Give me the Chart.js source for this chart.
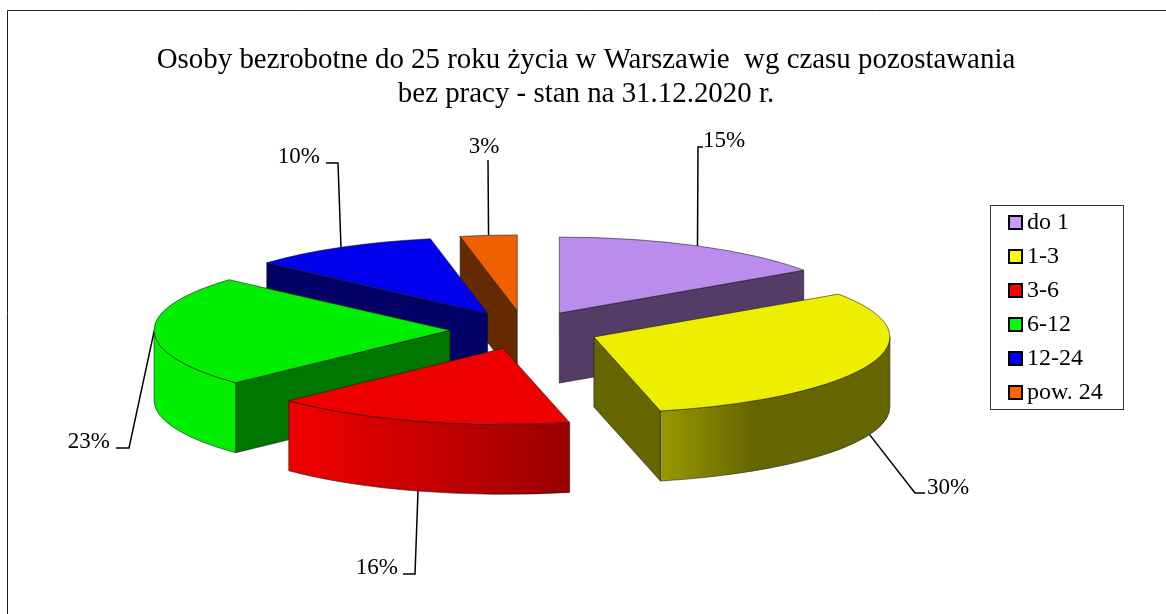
<!DOCTYPE html>
<html><head><meta charset="utf-8">
<style>html,body{margin:0;padding:0;background:#fff}canvas{display:block}</style>
<script src="https://cdn.jsdelivr.net/npm/chart.js@4/dist/chart.umd.min.js"></script>
</head><body><canvas id="c" width="1166" height="614"></canvas>
<script>
// ---- data ----
const categories = ['do 1', '1-3', '3-6', '6-12', '12-24', 'pow. 24'];
const shares = [15, 30, 16, 23, 10, 3];
const titleLines = ['Osoby bezrobotne do 25 roku życia w Warszawie  wg czasu pozostawania', 'bez pracy - stan na 31.12.2020 r.'];
// ---- colours ----
const topColors = ['#BB8CEE', '#EEEE00', '#EE0000', '#00EE00', '#0000EE', '#EE6000'];
const legendColors = ['#CC99FF', '#FFFF00', '#FF0000', '#00FF00', '#0000FF', '#FF6600'];
const cutColors = ['#533C66', '#666600', '#990000', '#007700', '#000066', '#662A00'];
const rimStops = [null, [[0, '#999900'], [0.4, '#666600'], [1, '#666600']], [[0, '#EE0000'], [0.05, '#EE0000'], [1, '#990000']], [[0, '#00EE00'], [1, '#00EE00']], null, null];
// ---- 3D layout ----
const pieRadius = 296, squash = 76 / 296, depth = 70, explode = 74.5, paintOrder = [0, 5, 4, 3, 1, 2];
const leaderOnRim = [0, 1, 1, 0, 0, 0];
const elbows = [[698, 147, 703, 147], [915, 493, 925, 493], [415, 574, 403, 574], [129, 448, 116, 448], [338, 163, 326, 163], [488, 160, 488, 160]];
const labelSpots = [[703, 141, 'left'], [927, 488, 'left'], [398, 568, 'right'], [110, 442, 'right'], [320, 157, 'right'], [484, 147, 'center']];
const serif = '"Liberation Serif", "Times New Roman", serif';

function geom(el) {
  const mid = (el.startAngle + el.endAngle) / 2;
  return { r: el.outerRadius,
           ax: el.x + Math.cos(mid) * explode,
           ay: el.y + Math.sin(mid) * explode * squash };
}
const px = (g, a) => g.ax + Math.cos(a) * g.r;
const py = (g, a) => g.ay + Math.sin(a) * g.r * squash;
function edge(ctx) {
  ctx.strokeStyle = 'rgba(20,20,20,0.7)'; ctx.lineWidth = 0.8; ctx.lineJoin = 'round'; ctx.stroke();
}
function drawCut(ctx, g, a, color) {
  ctx.beginPath();
  ctx.moveTo(g.ax, g.ay); ctx.lineTo(px(g, a), py(g, a));
  ctx.lineTo(px(g, a), py(g, a) + depth); ctx.lineTo(g.ax, g.ay + depth); ctx.closePath();
  ctx.fillStyle = color; ctx.fill(); edge(ctx);
}
function drawRim(ctx, g, a, b, stops) {
  ctx.beginPath();
  ctx.ellipse(g.ax, g.ay, g.r, g.r * squash, 0, a, b, false);
  ctx.ellipse(g.ax, g.ay + depth, g.r, g.r * squash, 0, b, a, true);
  ctx.closePath();
  const x0 = Math.min(px(g, a), px(g, b)), x1 = Math.max(px(g, a), px(g, b));
  const grad = ctx.createLinearGradient(x0, 0, x1, 0);
  stops.forEach(s => grad.addColorStop(s[0], s[1]));
  ctx.fillStyle = grad; ctx.fill(); edge(ctx);
}

const pie3d = {
  id: 'pie3d',
  afterLayout(chart) {
    const t = chart.titleBlock, l = chart.legend;
    t.left = 0; t.right = 1172;
    const w = l.width, h = l.height;
    l.left = 1001; l.top = 201; l.right = l.left + w; l.bottom = l.top + h;
  },
  afterDatasetsUpdate(chart) {
    // explode each slice along its own mid-angle, keeping the library's arc drawing
    chart.getDatasetMeta(0).data.forEach(el => {
      if (el._exploded) return;
      el._exploded = true;
      const draw = el.draw;
      el.draw = function (ctx, area) {
        const mid = (this.startAngle + this.endAngle) / 2;
        ctx.save();
        ctx.translate(Math.cos(mid) * explode, Math.sin(mid) * explode);
        draw.call(this, ctx, area);
        ctx.restore();
      };
    });
  },
  beforeDraw(chart) {
    const ctx = chart.ctx;
    ctx.save();
    ctx.fillStyle = '#fff'; ctx.fillRect(0, 0, chart.width, chart.height);
    ctx.strokeStyle = '#222'; ctx.lineWidth = 1;
    ctx.beginPath(); ctx.moveTo(7.5, chart.height); ctx.lineTo(7.5, 10.5); ctx.lineTo(chart.width, 10.5); ctx.stroke();
    ctx.strokeStyle = '#333';
    ctx.strokeRect(990.5, 205.5, 133, 204);
    ctx.restore();
  },
  beforeDatasetsDraw(chart) {
    const ctx = chart.ctx, arcs = chart.getDatasetMeta(0).data;
    ctx.save();
    // leaders go under the solids
    ctx.strokeStyle = '#000'; ctx.lineWidth = 1.5;
    arcs.forEach((el, i) => {
      const g = geom(el), mid = (el.startAngle + el.endAngle) / 2, e = elbows[i];
      ctx.beginPath();
      ctx.moveTo(px(g, mid), py(g, mid) + (leaderOnRim[i] ? depth : 0));
      ctx.lineTo(e[0], e[1]); ctx.lineTo(e[2], e[3]); ctx.stroke();
    });
    paintOrder.forEach(i => {
      const el = arcs[i], g = geom(el);
      const a = el.startAngle, b = el.endAngle;
      if (Math.cos(a) < -1e-6) drawCut(ctx, g, a, cutColors[i]);
      if (Math.cos(b) > 1e-6) drawCut(ctx, g, b, cutColors[i]);
      // portion of the outer wall that faces the viewer
      const lo = Math.max(a, 0), hi = Math.min(b, Math.PI);
      if (hi > lo && rimStops[i]) drawRim(ctx, g, lo, hi, rimStops[i]);
    });
    ctx.restore();
    ctx.save();
    const m = arcs[0];
    ctx.translate(m.x, m.y); ctx.scale(1, squash); ctx.translate(-m.x, -m.y);
  },
  afterDatasetsDraw(chart) {
    const ctx = chart.ctx, arcs = chart.getDatasetMeta(0).data;
    ctx.restore();
    ctx.save();
    arcs.forEach(el => {
      const g = geom(el);
      ctx.beginPath(); ctx.moveTo(g.ax, g.ay);
      ctx.ellipse(g.ax, g.ay, g.r, g.r * squash, 0, el.startAngle, el.endAngle, false);
      ctx.closePath(); edge(ctx);
    });
    ctx.fillStyle = '#000'; ctx.font = '23px ' + serif; ctx.textBaseline = 'middle';
    shares.forEach((v, i) => {
      const s = labelSpots[i];
      ctx.textAlign = s[2]; ctx.fillText(v + '%', s[0], s[1]);
    });
    ctx.restore();
  },
  afterDraw(chart) {
    const ctx = chart.ctx;
    ctx.save();
    legendColors.forEach((color, i) => {
      const y = 216 + i * 34;
      ctx.fillStyle = color; ctx.fillRect(1009, y, 13, 13);
      ctx.strokeStyle = '#000'; ctx.lineWidth = 2; ctx.strokeRect(1009, y, 13, 13);
    });
    ctx.restore();
  }
};

new Chart(document.getElementById('c'), {
  type: 'pie',
  data: { labels: categories, datasets: [{ data: shares, backgroundColor: topColors, borderWidth: 0, offset: 0, radius: pieRadius, clip: false }] },
  plugins: [pie3d],
  options: {
    responsive: false, animation: false,
    rotation: 0,
    layout: { padding: { left: 0, right: 117, top: 0, bottom: 65 } },
    events: [],
    plugins: {
      tooltip: { enabled: false },
      title: { display: true, text: titleLines, color: '#000', align: 'center',
               font: { family: serif, size: 28.9, weight: 'normal', lineHeight: 34 / 28.9 },
               padding: { top: 43, bottom: 0 } },
      legend: { display: true, position: 'chartArea', align: 'start',
                labels: { boxWidth: 4, boxHeight: 13, padding: 10, color: '#000',
                          font: { family: serif, size: 24 },
                          generateLabels: chart => chart.data.labels.map((t, i) => ({ text: t, fillStyle: 'rgba(0,0,0,0)', strokeStyle: 'rgba(0,0,0,0)', lineWidth: 0, index: i })) } }
    }
  }
});
</script></body></html>
